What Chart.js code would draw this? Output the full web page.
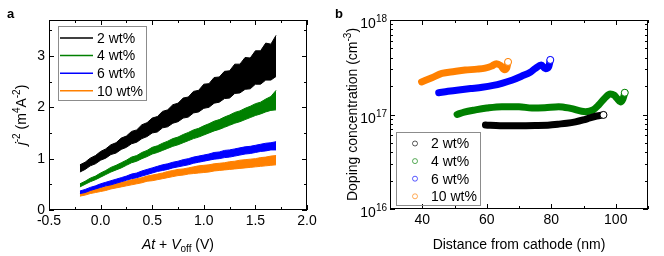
<!DOCTYPE html>
<html><head><meta charset="utf-8">
<script src="https://cdn.jsdelivr.net/npm/chart.js@4.4.1/dist/chart.umd.min.js"></script>
<style>
html,body{margin:0;padding:0;background:#fff;width:664px;height:256px;overflow:hidden}
canvas{position:absolute;top:0}
#ca{left:0}#cb{left:332px}
</style></head><body>
<canvas id="ca" width="332" height="256"></canvas>
<canvas id="cb" width="332" height="256"></canvas>
<script>
const FONT = '"Liberation Sans", Arial, Helvetica, sans-serif';

// ---------- Panel a data ----------
const aLabels = ['2 wt%', '4 wt%', '6 wt%', '10 wt%'];
const aColors = ['#000000', '#008000', '#0000ff', '#ff8000'];
const aX = [-0.2,-0.15,-0.1,-0.05,0,0.05,0.1,0.15,0.2,0.25,0.3,0.35,0.4,0.45,0.5,0.55,0.6,0.65,0.7,0.75,0.8,0.85,0.9,0.95,1.0,1.05,1.1,1.15,1.2,1.25,1.3,1.35,1.4,1.45,1.5,1.55,1.6,1.65,1.7];
const a2Up = [0.88,0.93,1.01,1.06,1.14,1.19,1.27,1.31,1.40,1.44,1.53,1.56,1.66,1.70,1.79,1.82,1.92,1.95,2.05,2.08,2.18,2.20,2.31,2.33,2.45,2.46,2.58,2.59,2.70,2.71,2.84,2.84,2.97,2.96,3.10,3.10,3.25,3.23,3.40];
const a2Lo = [0.74,0.79,0.86,0.90,0.97,1.01,1.08,1.11,1.18,1.22,1.29,1.32,1.39,1.43,1.50,1.52,1.60,1.62,1.69,1.72,1.79,1.81,1.89,1.91,1.98,2.00,2.08,2.10,2.17,2.18,2.27,2.28,2.35,2.36,2.45,2.45,2.53,2.53,2.60];
const a4Up = [0.51,0.56,0.62,0.66,0.72,0.77,0.83,0.87,0.92,0.97,1.03,1.06,1.12,1.16,1.22,1.25,1.30,1.34,1.39,1.42,1.47,1.51,1.56,1.59,1.64,1.68,1.73,1.76,1.81,1.85,1.90,1.93,1.98,2.02,2.07,2.10,2.16,2.21,2.33];
const a4Lo = [0.45,0.50,0.55,0.59,0.64,0.69,0.74,0.78,0.82,0.87,0.92,0.95,1.00,1.04,1.09,1.12,1.16,1.20,1.24,1.27,1.31,1.35,1.39,1.42,1.46,1.50,1.54,1.57,1.61,1.65,1.69,1.72,1.76,1.80,1.84,1.87,1.91,1.94,1.95];
const a6Up = [0.37,0.40,0.44,0.47,0.51,0.54,0.57,0.60,0.63,0.66,0.70,0.72,0.76,0.79,0.82,0.85,0.88,0.90,0.93,0.95,0.98,1.00,1.03,1.05,1.07,1.09,1.12,1.13,1.16,1.17,1.19,1.21,1.23,1.24,1.26,1.28,1.30,1.31,1.33];
const a6Lo = [0.32,0.34,0.38,0.41,0.44,0.47,0.49,0.52,0.55,0.58,0.61,0.63,0.66,0.69,0.72,0.75,0.77,0.79,0.82,0.84,0.86,0.88,0.91,0.93,0.95,0.97,0.99,1.00,1.02,1.03,1.05,1.07,1.09,1.10,1.12,1.14,1.15,1.17,1.17];
const a10Up = [0.32,0.35,0.38,0.41,0.43,0.46,0.49,0.51,0.54,0.56,0.59,0.61,0.63,0.66,0.68,0.70,0.72,0.75,0.77,0.79,0.80,0.82,0.84,0.86,0.87,0.88,0.90,0.91,0.92,0.94,0.95,0.97,0.98,0.99,1.00,1.02,1.03,1.05,1.06];
const a10Lo = [0.27,0.29,0.32,0.34,0.36,0.38,0.41,0.43,0.45,0.47,0.49,0.51,0.53,0.56,0.57,0.59,0.61,0.63,0.65,0.67,0.68,0.70,0.71,0.72,0.73,0.74,0.76,0.77,0.78,0.79,0.80,0.81,0.82,0.83,0.84,0.85,0.86,0.87,0.88];
const aUp = [a2Up, a4Up, a6Up, a10Up];
const aLo = [a2Lo, a4Lo, a6Lo, a10Lo];
const aYTickLabels = ['0', '1', '2', '3'];

// ---------- Panel b data ----------
const bLabels = ['2 wt%', '4 wt%', '6 wt%', '10 wt%'];
const bColors = ['#000000', '#008000', '#0000ff', '#ff8000'];
const bLegendColors = ['rgba(0,0,0,0.65)', 'rgba(0,128,0,0.65)', 'rgba(0,0,255,0.65)', 'rgba(255,128,0,0.65)'];
const b2X = [59.6, 64.1, 70, 75, 79.6, 82, 84.8, 87.5, 89.9, 92, 94.1, 96.2];
const b2Y = [7.75e16, 7.6e16, 7.6e16, 7.65e16, 7.75e16, 7.9e16, 8.07e16, 8.35e16, 8.75e16, 9.2e16, 9.64e16, 9.9e16];
const b4X = [50.8, 53, 56.5, 60, 64.7, 70, 74, 78, 82.3, 86, 90.6, 93, 94.7, 96.5, 98.3, 99.5, 100.4, 101.4, 102.2, 102.8];
const b4Y = [1.0e17, 1.06e17, 1.12e17, 1.17e17, 1.21e17, 1.21e17, 1.17e17, 1.18e17, 1.21e17, 1.16e17, 1.07e17, 1.12e17, 1.26e17, 1.48e17, 1.65e17, 1.6e17, 1.48e17, 1.36e17, 1.45e17, 1.7e17];
const b6X = [45.1, 48, 51.3, 55, 58.6, 62, 64.7, 68, 70.9, 73.5, 75.1, 76.9, 78.2, 79.2, 79.7];
const b6Y = [1.70e17, 1.76e17, 1.82e17, 1.88e17, 1.94e17, 2.03e17, 2.14e17, 2.32e17, 2.55e17, 2.8e17, 3.08e17, 3.34e17, 3.05e17, 3.2e17, 3.78e17];
const b10X = [39.8, 43, 46.1, 50, 53.3, 57, 59.5, 61.5, 63.0, 64.3, 65.5, 66.2, 66.6];
const b10Y = [2.21e17, 2.45e17, 2.72e17, 2.85e17, 2.95e17, 3.02e17, 3.1e17, 3.25e17, 3.45e17, 3.3e17, 2.98e17, 3.1e17, 3.6e17];
const bXs = [b2X, b4X, b6X, b10X];
const bYs = [b2Y, b4Y, b6Y, b10Y];
const bYTickExps = ['16', '17', '18'];

// ---------- helpers ----------
const N = '14px ' + FONT, I = 'italic 14px ' + FONT, S = '10px ' + FONT;
function rich(ctx, parts, x, y, align) {
  let w = 0;
  for (const p of parts) { ctx.font = p.f; w += ctx.measureText(p.t).width; }
  let cx = align === 'center' ? x - w / 2 : align === 'right' ? x - w : x;
  ctx.textAlign = 'left'; ctx.textBaseline = 'alphabetic';
  for (const p of parts) { ctx.font = p.f; ctx.fillText(p.t, cx, y + (p.dy || 0)); cx += ctx.measureText(p.t).width; }
}
function frame(ctx, a) {
  ctx.save(); ctx.strokeStyle = '#000'; ctx.lineWidth = 1;
  ctx.strokeRect(Math.round(a.left) + 0.5, Math.round(a.top) + 0.5, Math.round(a.right - a.left) - 1, Math.round(a.bottom - a.top) - 1);
  ctx.restore();
}
function xTick(ctx, a, px, len) {
  px = Math.round(px) + 0.5;
  ctx.beginPath(); ctx.moveTo(px, a.bottom); ctx.lineTo(px, a.bottom - len);
  ctx.moveTo(px, a.top); ctx.lineTo(px, a.top + len); ctx.stroke();
}
function yTick(ctx, a, py, len) {
  py = Math.round(py) + 0.5;
  ctx.beginPath(); ctx.moveTo(a.left, py); ctx.lineTo(a.left + len, py);
  ctx.moveTo(a.right, py); ctx.lineTo(a.right - len, py); ctx.stroke();
}

Chart.defaults.font.family = FONT;
Chart.defaults.font.size = 14;
Chart.defaults.color = '#000';

// ---------- Panel a ----------
const aDatasets = [];
for (let i = 0; i < 4; i++) {
  aDatasets.push({ label: aLabels[i], data: aUp[i].map((y, j) => ({ x: aX[j], y })), borderColor: aColors[i], backgroundColor: aColors[i], borderWidth: 1, pointRadius: 0, fill: '+1', tension: 0 });
  aDatasets.push({ label: '', data: aLo[i].map((y, j) => ({ x: aX[j], y })), borderColor: aColors[i], backgroundColor: aColors[i], borderWidth: 1, pointRadius: 0, fill: false, tension: 0 });
}
const aPlugin = {
  id: 'aDeco',
  afterDraw(chart) {
    const ctx = chart.ctx, a = chart.chartArea, xs = chart.scales.x, ys = chart.scales.y;
    ctx.save();
    frame(ctx, a);
    ctx.strokeStyle = '#000'; ctx.lineWidth = 1;
    for (let k = 0; k <= 10; k++) { const v = -0.5 + k * 0.25; xTick(ctx, a, xs.getPixelForValue(v), k % 2 === 0 ? 5 : 3); }
    for (let k = 0; k <= 7; k++) { const v = k * 0.5; yTick(ctx, a, ys.getPixelForValue(v), k % 2 === 0 ? 5 : 3); }
    // legend
    ctx.strokeStyle = '#8c8c8c'; ctx.strokeRect(58.5, 26.5, 88, 74);
    for (let i = 0; i < 4; i++) {
      const y = 38 + i * 17.6;
      ctx.strokeStyle = aColors[i]; ctx.lineWidth = 1.5;
      ctx.beginPath(); ctx.moveTo(60, y); ctx.lineTo(93, y); ctx.stroke();
      ctx.fillStyle = '#000'; ctx.font = N; ctx.textAlign = 'left'; ctx.textBaseline = 'middle';
      ctx.fillText(aLabels[i], 97, y + 1);
    }
    ctx.fillStyle = '#000';
    // axis titles
    rich(ctx, [{ t: 'At', f: I }, { t: ' + ', f: N }, { t: 'V', f: I }, { t: 'off', f: S, dy: 3 }, { t: ' (V)', f: N }], (a.left + a.right) / 2, 249, 'center');
    ctx.save(); ctx.translate(26, (a.top + a.bottom) / 2); ctx.rotate(-Math.PI / 2);
    rich(ctx, [{ t: 'j', f: I }, { t: '-2', f: S, dy: -6 }, { t: ' (m', f: N }, { t: '4', f: S, dy: -6 }, { t: 'A', f: N }, { t: '-2', f: S, dy: -6 }, { t: ')', f: N }], 0, 0, 'center');
    ctx.restore();
    ctx.font = 'bold 13px ' + FONT; ctx.textAlign = 'left'; ctx.textBaseline = 'alphabetic';
    ctx.fillText('a', 7, 18);
    ctx.restore();
  }
};
new Chart(document.getElementById('ca'), {
  type: 'line',
  data: { datasets: aDatasets },
  options: {
    responsive: false, animation: false, devicePixelRatio: 1,
    layout: { padding: { top: 20, right: 25, left: 0, bottom: 0 } },
    plugins: { legend: { display: false }, tooltip: { enabled: false } },
    scales: {
      x: { type: 'linear', min: -0.5, max: 2.0, grid: { display: false, drawTicks: false }, border: { display: false },
           ticks: { stepSize: 0.5, padding: 3, font: { size: 14 }, callback: v => v.toFixed(1) },
           afterFit: s => { s.height = 46; } },
      y: { type: 'linear', min: 0, max: 3.7, grid: { display: false, drawTicks: false }, border: { display: false },
           ticks: { stepSize: 1, padding: 4, includeBounds: false, font: { size: 14 }, callback: v => aYTickLabels[v] },
           afterFit: s => { s.width = 49; } }
    }
  },
  plugins: [aPlugin]
});

// ---------- Panel b ----------
const bDatasets = [];
for (let i = 0; i < 4; i++) {
  const n = bXs[i].length;
  bDatasets.push({ label: bLabels[i], data: bXs[i].map((x, j) => ({ x, y: bYs[i][j] })), borderColor: bColors[i], borderWidth: 7,
    borderCapStyle: 'round', borderJoinStyle: 'round', cubicInterpolationMode: 'monotone', fill: false,
    pointRadius: bXs[i].map((_, j) => j === n - 1 ? 3.5 : 0), pointBackgroundColor: '#fff', pointBorderColor: bColors[i], pointBorderWidth: 1 });
}
const bPlugin = {
  id: 'bDeco',
  afterDraw(chart) {
    const ctx = chart.ctx, a = chart.chartArea, xs = chart.scales.x, ys = chart.scales.y;
    ctx.save();
    frame(ctx, a);
    ctx.strokeStyle = '#000'; ctx.lineWidth = 1;
    for (let v = 30; v <= 110; v += 10) xTick(ctx, a, xs.getPixelForValue(v), v % 20 === 0 ? 5 : 3);
    for (let e = 16; e <= 18; e++) {
      for (let m = 1; m <= 9; m++) {
        const v = m * Math.pow(10, e);
        if (v > 1e18 * 1.0001) break;
        yTick(ctx, a, ys.getPixelForValue(v), m === 1 ? 5 : 3);
      }
    }
    // y tick labels
    ctx.fillStyle = '#000';
    bYTickExps.forEach(ex => {
      const py = ys.getPixelForValue(Number('1e' + ex));
      rich(ctx, [{ t: '10', f: N }, { t: ex, f: S, dy: -6 }], a.left - 3, py + 8, 'right');
    });
    // legend
    ctx.strokeStyle = '#8c8c8c'; ctx.lineWidth = 1; ctx.strokeRect(64.5, 132.5, 84, 73);
    for (let i = 0; i < 4; i++) {
      const y = 143.5 + i * 17.6;
      ctx.strokeStyle = bLegendColors[i]; ctx.lineWidth = 1;
      ctx.beginPath(); ctx.arc(83, y, 2.5, 0, Math.PI * 2); ctx.stroke();
      ctx.fillStyle = '#000'; ctx.font = N; ctx.textAlign = 'left'; ctx.textBaseline = 'middle';
      ctx.fillText(bLabels[i], 99, y + 1);
    }
    ctx.fillStyle = '#000';
    ctx.font = N; ctx.textAlign = 'center'; ctx.textBaseline = 'alphabetic';
    ctx.fillText('Distance from cathode (nm)', (a.left + a.right) / 2, 249);
    ctx.save(); ctx.translate(25, (a.top + a.bottom) / 2); ctx.rotate(-Math.PI / 2);
    rich(ctx, [{ t: 'Doping concentration (cm', f: N }, { t: '-3', f: S, dy: -6 }, { t: ')', f: N }], 0, 0, 'center');
    ctx.restore();
    ctx.font = 'bold 13px ' + FONT; ctx.textAlign = 'left'; ctx.textBaseline = 'alphabetic';
    ctx.fillText('b', 3, 18);
    ctx.restore();
  }
};
new Chart(document.getElementById('cb'), {
  type: 'line',
  data: { datasets: bDatasets },
  options: {
    responsive: false, animation: false, devicePixelRatio: 1,
    layout: { padding: { top: 20, right: 16, left: 0, bottom: 0 } },
    plugins: { legend: { display: false }, tooltip: { enabled: false } },
    scales: {
      x: { type: 'linear', min: 30, max: 110, grid: { display: false, drawTicks: false }, border: { display: false },
           ticks: { stepSize: 10, padding: 3, font: { size: 14 }, autoSkip: false, maxRotation: 0, callback: v => (v % 20 === 0 ? String(v) : '') },
           afterFit: s => { s.height = 47; } },
      y: { type: 'logarithmic', min: 1e16, max: 1e18, grid: { display: false, drawTicks: false }, border: { display: false },
           ticks: { display: false },
           afterFit: s => { s.width = 58; } }
    }
  },
  plugins: [bPlugin]
});
</script>
</body></html>
